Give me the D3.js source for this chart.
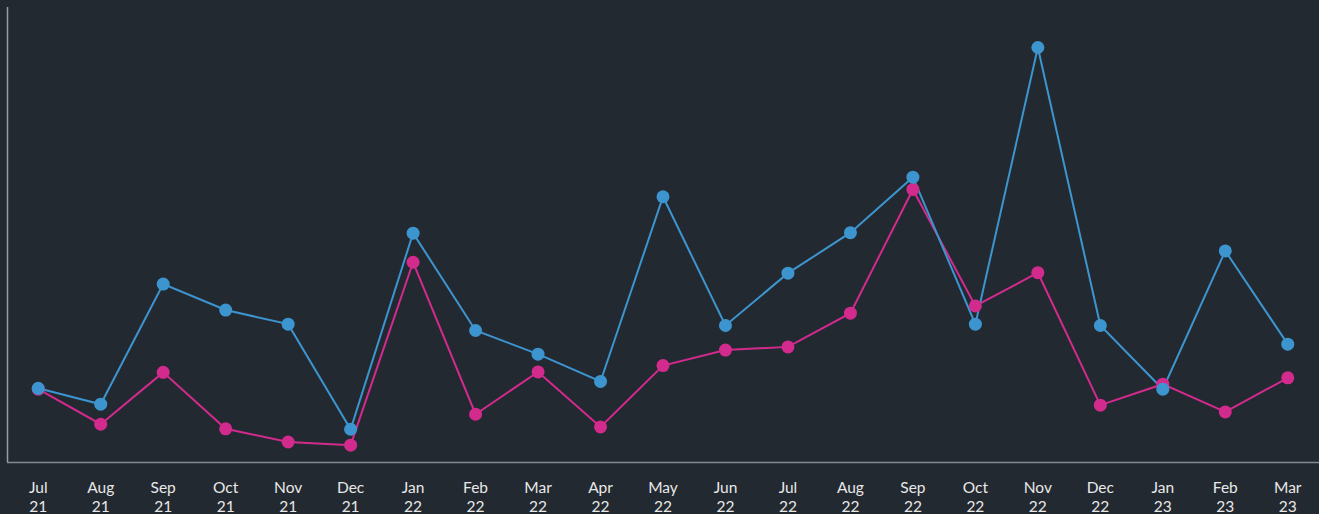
<!DOCTYPE html>
<html>
<head>
<meta charset="utf-8">
<script src="https://cdn.jsdelivr.net/npm/d3@7"></script>
<style>
  html, body { margin: 0; padding: 0; background: #232930; }
  svg { display: block; }
</style>
</head>
<body>
<div id="chart"></div>
<script>
// month labels (two lines each)
var months = ["Jul", "Aug", "Sep", "Oct", "Nov", "Dec", "Jan", "Feb", "Mar", "Apr", "May",
              "Jun", "Jul", "Aug", "Sep", "Oct", "Nov", "Dec", "Jan", "Feb", "Mar"];
var years = ["21", "21", "21", "21", "21", "21", "22", "22", "22", "22", "22",
             "22", "22", "22", "22", "22", "22", "22", "23", "23", "23"];

var blueValues = [16.2, 12.7, 39.1, 33.4, 30.3, 7.2, 50.3, 28.9, 23.7, 17.7, 58.3,
                  30.0, 41.5, 50.4, 62.6, 30.3, 91.1, 30.0, 16.0, 46.4, 25.9];
var pinkValues = [16.0, 8.3, 19.7, 7.3, 4.4, 3.7, 43.9, 10.5, 19.8, 7.7, 21.2,
                  24.6, 25.3, 32.7, 59.9, 34.3, 41.6, 12.5, 17.1, 11.0, 18.5];

var yDomain = [0, 100];

var W = 1319, H = 514;
var plotLeft = 7, plotTop = 7, plotBottom = 462;

var keys = months.map(function(m, i) { return i; });

var svg = d3.select("#chart").append("svg")
    .attr("width", W)
    .attr("height", H);

var x = d3.scalePoint().domain(keys).range([plotLeft, W]).padding(0.5);
var y = d3.scaleLinear().domain(yDomain).range([plotBottom, plotTop]);

// axes
var xAxis = svg.append("g")
    .attr("transform", "translate(0," + plotBottom + ")")
    .call(d3.axisBottom(x).tickSize(0).tickFormat(""));
xAxis.select(".domain")
    .attr("d", "M" + plotLeft + ",0.5H" + W)
    .attr("stroke", "#858a91")
    .attr("stroke-width", 1.5);

svg.append("line")
    .attr("x1", plotLeft + 0.5).attr("x2", plotLeft + 0.5)
    .attr("y1", plotTop).attr("y2", plotBottom)
    .attr("stroke", "#9a9ea4")
    .attr("stroke-width", 1.5);

var labels = svg.append("g")
    .attr("font-family", "Lato, 'Open Sans', sans-serif")
    .attr("font-size", "15.5px")
    .attr("fill", "#e8e8e8")
    .attr("text-anchor", "middle");

keys.forEach(function(k) {
    var t = labels.append("text").attr("x", x(k));
    t.append("tspan").attr("x", x(k)).attr("y", 493).text(months[k]);
    t.append("tspan").attr("x", x(k)).attr("y", 512).text(years[k]);
});

var series = [
    { values: pinkValues, color: "#d32a8e" },
    { values: blueValues, color: "#3d95d0" }
];

var line = d3.line()
    .x(function(d, i) { return x(i); })
    .y(function(d) { return y(d); });

series.forEach(function(s) {
    svg.append("path")
        .datum(s.values)
        .attr("fill", "none")
        .attr("stroke", s.color)
        .attr("stroke-width", 2)
        .attr("d", line);
});

series.forEach(function(s) {
    svg.append("g").selectAll("circle")
        .data(s.values)
        .enter()
        .append("circle")
        .attr("cx", function(d, i) { return x(i); })
        .attr("cy", function(d) { return y(d); })
        .attr("r", 6.5)
        .attr("fill", s.color);
});
</script>
</body>
</html>
